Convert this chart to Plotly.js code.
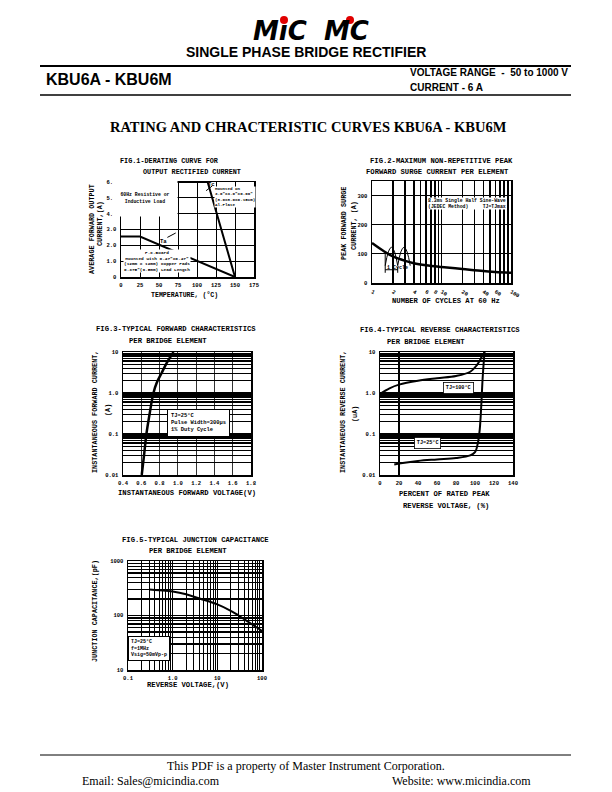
<!DOCTYPE html>
<html><head><meta charset="utf-8">
<script src="https://cdn.plot.ly/plotly-3.0.1.min.js"></script>
<style>html,body{margin:0;padding:0;background:#fff}#c{width:612px;height:792px}</style>
</head><body><div id="c"></div>
<script>
// ---------- DATA ----------
// Fig.1 derating curve
const f1TcTemp = [0, 114, 150];
const f1TcCurrent = [6.0, 6.0, 0];
const f1TaTemp = [0, 25, 150];
const f1TaCurrent = [2.55, 2.55, 0];
const f1XTicks = [0, 25, 50, 75, 100, 125, 150, 175];
const f1YTicks = [0, 1, 2, 3, 4, 5, 6];
const f1YLabels = ["0", "1.0", "2.0", "3.0", "4.0", "5.0", "6.0"];
// Fig.2 surge current
const f2Cycles = [1, 1.5, 2, 3, 4, 6, 10, 20, 40, 60, 100];
const f2Surge = [137, 108, 91, 76, 68, 61, 55, 48, 41, 38, 35];
const f2XTicks = [1, 2, 4, 6, 8, 10, 20, 40, 60, 100];
const f2XMinor = [3, 5, 7, 9, 30, 50, 70, 80, 90];
const f2YTicks = [0, 100, 200, 300];
// Fig.3 forward characteristics
const f3Voltage = [0.605, 0.63, 0.656, 0.69, 0.733, 0.77, 0.82, 0.88, 0.953];
const f3Current = [0.01, 0.03, 0.1, 0.3, 1.0, 1.8, 3.0, 5.5, 10];
const f3XTicks = [0.4, 0.6, 0.8, 1.0, 1.2, 1.4, 1.6, 1.8];
const f3XLabels = ["0.4","0.6","0.8","1.0","1.2","1.4","1.6","1.8"];
const decTicks = [0.01, 0.1, 1, 10];
const decLabels = ["0.01", "0.1", "1.0", "10"];
// Fig.4 reverse characteristics
const f4Pct100 = [0, 10, 20, 40, 60, 80, 95, 102, 107, 110];
const f4Cur100 = [0.95, 1.3, 1.6, 2.0, 2.3, 2.6, 3.3, 4.8, 7.5, 10];
const f4Pct25 = [15, 20, 40, 60, 80, 95, 100, 103, 105, 106.5, 108, 110];
const f4Cur25 = [0.018, 0.019, 0.022, 0.024, 0.026, 0.03, 0.036, 0.06, 0.13, 0.45, 2.2, 10];
const f4XTicks = [0, 20, 40, 60, 80, 100, 120, 140];
// Fig.5 junction capacitance
const f5Voltage = [0.3, 0.5, 1, 2, 4, 10, 20, 30, 50, 100];
const f5Cap = [300, 290, 275, 245, 205, 160, 122, 100, 76, 52];
const f5XTicks = [0.1, 1, 10, 100];
const f5XLabels = ["0.1", "1.0", "10", "100"];
const f5YTicks = [10, 100, 1000];

// minor log-grid positions (2..9 of each decade)
function logMinor(d0, d1){const v=[];for(let d=d0;d<d1;d++){for(let m=2;m<10;m++)v.push(m*Math.pow(10,d));}return v;}

// ---------- LAYOUT HELPERS ----------
const W=612,H=792;
const DX=(a,b)=>[a/W,b/W];
const DY=(top,bot)=>[1-bot/H,1-top/H];
const MONO="Liberation Mono";
const tickFont={family:MONO,size:5.5,color:"#000",weight:"bold"};
function ax(extra){return Object.assign({showline:true,mirror:true,linecolor:"#000",linewidth:1.5,ticks:"",showgrid:true,gridcolor:"#000",gridwidth:1,zeroline:false,tickfont:tickFont,fixedrange:true,tickmode:"array",ticklabelstandoff:2},extra);}
function minor(vals,w){return {tickmode:"array",tickvals:vals,showgrid:true,gridcolor:"#000",gridwidth:w,ticks:""};}
function T(text,px,py,size,o){return Object.assign({text:text,x:px/W,y:1-py/H,xref:"paper",yref:"paper",showarrow:false,xanchor:"center",yanchor:"middle",font:{family:MONO,size:size,color:"#000",weight:"bold"}},o||{});}
function box(text,xr,yr,x,y,size,o){return Object.assign({text:text,x:x,y:y,xref:xr,yref:yr,showarrow:false,xanchor:"center",yanchor:"middle",bgcolor:"#fff",font:{family:MONO,size:size,color:"#000",weight:"bold"}},o||{});}
const logoFont={family:"DejaVu Sans",size:26,color:"#000",weight:"bold",style:"italic"};

const line={color:"#000",width:2};
const traces=[
 {x:f1TcTemp,y:f1TcCurrent,xaxis:"x",yaxis:"y",mode:"lines",line:line,hoverinfo:"skip"},
 {x:f1TaTemp,y:f1TaCurrent,xaxis:"x",yaxis:"y",mode:"lines",line:line,hoverinfo:"skip"},
 {x:f2Cycles,y:f2Surge,xaxis:"x2",yaxis:"y2",mode:"lines",line:{color:"#000",width:2.5,shape:"spline"},hoverinfo:"skip"},
 {x:f3Voltage,y:f3Current,xaxis:"x3",yaxis:"y3",mode:"lines",line:{color:"#000",width:2.5,shape:"spline"},hoverinfo:"skip"},
 {x:f4Pct100,y:f4Cur100,xaxis:"x4",yaxis:"y4",mode:"lines",line:{color:"#000",width:2,shape:"spline"},hoverinfo:"skip"},
 {x:f4Pct25,y:f4Cur25,xaxis:"x4",yaxis:"y4",mode:"lines",line:{color:"#000",width:2,shape:"spline"},hoverinfo:"skip"},
 {x:f5Voltage,y:f5Cap,xaxis:"x5",yaxis:"y5",mode:"lines",line:{color:"#000",width:2,shape:"spline"},hoverinfo:"skip"}
];

const layout={
 width:W,height:H,margin:{l:0,r:0,t:0,b:0},paper_bgcolor:"#fff",plot_bgcolor:"#fff",showlegend:false,
 xaxis:ax({domain:DX(121,254),range:[0,175],anchor:"y",tickvals:f1XTicks,ticktext:f1XTicks.map(String)}),
 yaxis:ax({domain:DY(182,277),range:[0,6],anchor:"x",tickvals:f1YTicks,ticktext:f1YLabels}),
 xaxis2:ax({domain:DX(372,511),type:"log",range:[0,2],anchor:"y2",tickvals:f2XTicks,ticktext:f2XTicks.map(String),gridwidth:1.6,minor:minor(f2XMinor,1.6)}),
 yaxis2:ax({domain:DY(181,283),range:[0,350],anchor:"x2",tickvals:f2YTicks,ticktext:f2YTicks.map(String)}),
 xaxis3:ax({domain:DX(123,251),range:[0.4,1.8],anchor:"y3",tickvals:f3XTicks,ticktext:f3XLabels,gridwidth:0.8}),
 yaxis3:ax({domain:DY(352,475),type:"log",range:[-2,1],anchor:"x3",tickvals:decTicks,ticktext:decLabels,gridwidth:1.3,minor:minor(logMinor(-2,1),1.3)}),
 xaxis4:ax({domain:DX(380,513),range:[0,140],anchor:"y4",tickvals:f4XTicks,ticktext:f4XTicks.map(String),showgrid:false}),
 yaxis4:ax({domain:DY(352,475),type:"log",range:[-2,1],anchor:"x4",tickvals:decTicks,ticktext:decLabels,gridwidth:1.3,minor:minor(logMinor(-2,1),1.3)}),
 xaxis5:ax({domain:DX(128,262),type:"log",range:[-1,2],anchor:"y5",tickvals:f5XTicks,ticktext:f5XLabels,gridwidth:1,minor:minor(logMinor(-1,2),1)}),
 yaxis5:ax({domain:DY(561,670),type:"log",range:[1,3],anchor:"x5",tickvals:f5YTicks,ticktext:f5YTicks.map(String),gridwidth:1.2,minor:minor(logMinor(1,3),1.2)}),
 shapes:[
  // header / footer rules
  {type:"line",xref:"paper",yref:"paper",x0:40/W,x1:571/W,y0:1-66/H,y1:1-66/H,line:{color:"#000",width:2}},
  {type:"line",xref:"paper",yref:"paper",x0:40/W,x1:571/W,y0:1-95/H,y1:1-95/H,line:{color:"#000",width:1.5}},
  {type:"line",xref:"paper",yref:"paper",x0:40/W,x1:571/W,y0:1-755/H,y1:1-755/H,line:{color:"#000",width:1}},
  // logo dots
  {type:"circle",xref:"paper",yref:"paper",x0:280/W,x1:288/W,y0:1-24/H,y1:1-16/H,fillcolor:"#e00000",line:{width:0}},
  {type:"circle",xref:"paper",yref:"paper",x0:346/W,x1:354/W,y0:1-24/H,y1:1-16/H,fillcolor:"#e00000",line:{width:0}},
  // Fig1 markers
  {type:"line",xref:"x",yref:"y",x0:61,y0:2.5,x1:72,y1:2.78,line:{color:"#000",width:1}},
  {type:"line",xref:"x",yref:"y",x0:112,y0:5.45,x1:120,y1:5.75,line:{color:"#000",width:1}},
  // Fig4 vertical line at 20%
  {type:"line",xref:"x4",yref:"y4 domain",x0:20,x1:20,y0:0,y1:1,line:{color:"#000",width:2}},
  // Fig2 half-sine illustration
  {type:"path",xref:"x2 domain",yref:"y2 domain",path:"M0.095,0.17 Q0.14,0.53 0.185,0.17 Q0.23,0.53 0.275,0.17",line:{color:"#000",width:1}},
  {type:"line",xref:"x2 domain",yref:"y2 domain",x0:0.095,x1:0.095,y0:0.1,y1:0.3,line:{color:"#000",width:1}},
  {type:"line",xref:"x2 domain",yref:"y2 domain",x0:0.095,x1:0.185,y0:0.13,y1:0.13,line:{color:"#000",width:1}},
  {type:"line",xref:"x2 domain",yref:"y2 domain",x0:0.185,x1:0.185,y0:0.1,y1:0.16,line:{color:"#000",width:1}}
 ],
 annotations:[
  // header
  T("MıC",280,31,26,{font:logoFont}),
  T("MC",346,31,26,{font:logoFont}),
  T("SINGLE PHASE BRIDGE RECTIFIER",306,52,14,{font:{family:"Liberation Sans",size:14,color:"#000",weight:"bold"}}),
  T("KBU6A - KBU6M",44,80,16,{xanchor:"left",font:{family:"Liberation Sans",size:16,color:"#000",weight:"bold"}}),
  T("VOLTAGE RANGE  -  50 to 1000 V",408,73,10,{xanchor:"left",font:{family:"Liberation Sans",size:10,color:"#000",weight:"bold"}}),
  T("CURRENT - 6 A",408,87,10,{xanchor:"left",font:{family:"Liberation Sans",size:10,color:"#000",weight:"bold"}}),
  T("RATING AND CHRACTERISTIC CURVES KBU6A - KBU6M",308,127,14.5,{font:{family:"Liberation Serif",size:14.5,color:"#000",weight:"bold"}}),
  // footer
  T("This PDF is a property of Master Instrument Corporation.",306,766,12,{font:{family:"Liberation Serif",size:12,color:"#000"}}),
  T("Email: Sales@micindia.com",80,781,12,{xanchor:"left",font:{family:"Liberation Serif",size:12,color:"#000"}}),
  T("Website: www.micindia.com",390,781,12,{xanchor:"left",font:{family:"Liberation Serif",size:12,color:"#000"}}),
  // Fig1 texts
  T("FIG.1-DERATING CURVE FOR",118,161,6.8,{xanchor:"left"}),
  T("OUTPUT RECTIFIED CURRENT",141,172,6.8,{xanchor:"left"}),
  T("AVERAGE FORWARD OUTPUT",92,229,6.8,{textangle:-90}),
  T("CURRENT,(A)",100,224,6.8,{textangle:-90}),
  T("TEMPERATURE, (°C)",184,295,6.6),
  box("60Hz Resistive or<br>Inductive Load","x","y",32,5.0,4.8,{height:34,width:62}),
  box("Mounted on<br>3.0\"X3.0\"X0.06\"<br>(8.0X8.0X0.15cm)<br>Al.Plate","x","y",150,5.05,4.2,{align:"left",borderpad:0}),
  T("Tc",211,185,5.6),
  T("Ta",163,241,5.6),
  box("P.C.Board<br>Mounted with 0.47\"X0.47\"<br>(12mm X 12mm) Copper Pads<br>0.375\"(9.5mm) Lead Length","x","y",47,1.0,4.4,{borderpad:0}),
  // Fig2 texts
  T("FIG.2-MAXIMUM NON-REPETITIVE PEAK",441,161,7.2),
  T("FORWARD SURGE CURRENT PER ELEMENT",437,172,7.2),
  T("PEAK FORWARD SURGE",344,224,6.8,{textangle:-90}),
  T("CURRENT, (A)",354,226,6.8,{textangle:-90}),
  T("NUMBER OF CYCLES AT 60 Hz",446,301,7.2),
  box("8.3ms Single Half Sine-Wave<br>(JEDEC Method)     TJ=TJmax","x2 domain","y2 domain",0.68,0.78,4.8,{align:"left",borderpad:0}),
  T("1 Cycle",397,268,5),
  // Fig3 texts
  T("FIG.3-TYPICAL FORWARD CHARACTERISTICS",176,329,7.2),
  T("PER BRIDGE ELEMENT",168,341,7.2),
  T("INSTANTANEOUS FORWARD CURRENT,",95,412,6.8,{textangle:-90}),
  T("(A)",108,410,6.8,{textangle:-90}),
  T("INSTANTANEOUS FORWARD VOLTAGE(V)",187,493,7.2),
  box("TJ=25°C<br>Pulse Width=300μs<br>1% Duty Cycle","x3 domain","y3 domain",0.586,0.42,5.4,{bordercolor:"#000",borderwidth:1,borderpad:3,align:"left"}),
  // Fig4 texts
  T("FIG.4-TYPICAL REVERSE CHARACTERISTICS",440,330,7.2),
  T("PER BRIDGE ELEMENT",426,342,7.2),
  T("INSTANTANEOUS REVERSE CURRENT,",343,412,6.8,{textangle:-90}),
  T("(uA)",355,414,6.8,{textangle:-90}),
  T("PERCENT OF RATED PEAK",444,494,7.2),
  T("REVERSE VOLTAGE, (%)",446,506,7.2),
  // annotation y on log axes is given as log10(value)
  box("TJ=100°C","x4","y4",83,0.12,5.2,{bordercolor:"#000",borderwidth:0.8,borderpad:2}),
  box("TJ=25°C","x4","y4",50,-1.22,5.2,{bordercolor:"#000",borderwidth:0.8,borderpad:2}),
  // Fig5 texts
  T("FIG.5-TYPICAL JUNCTION CAPACITANCE",195,540,7.2),
  T("PER BRIDGE ELEMENT",188,551,7.2),
  T("JUNCTION CAPACITANCE,(pF)",95,611,6.8,{textangle:-90}),
  T("REVERSE VOLTAGE,(V)",188,685,7.2),
  box("TJ=25°C<br>f=1MHz<br>Vsig=50mVp-p","x5 domain","y5 domain",0.16,0.2,5,{bordercolor:"#000",borderwidth:1,borderpad:2,align:"left"})
 ]
};
Plotly.newPlot("c",traces,layout,{staticPlot:true,displayModeBar:false});
</script></body></html>
